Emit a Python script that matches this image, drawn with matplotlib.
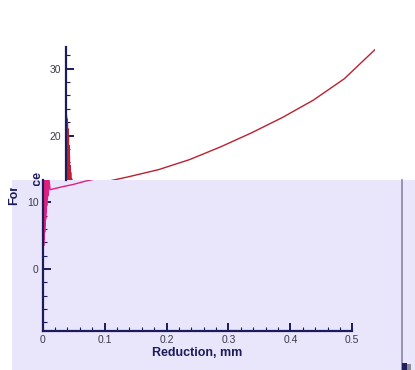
import matplotlib.pyplot as plt
from matplotlib.patches import Rectangle
from matplotlib.transforms import Bbox, TransformedBbox
from matplotlib.ticker import MultipleLocator, FormatStrFormatter

plt.rcParams['font.family'] = ['Liberation Sans', 'DejaVu Sans']

# Force vs reduction: noisy start-up spike followed by the smooth loading curve
spike_x = [0.0, 0.0004, 0.0008, 0.0012, 0.0016, 0.002, 0.0024, 0.0028, 0.0032, 0.0036,
           0.004, 0.0044, 0.0048, 0.0052, 0.0056, 0.006, 0.0065, 0.007, 0.0075, 0.008,
           0.009, 0.010]
spike_y = [1.0, 29.4, 2.0, 23.0, 3.5, 22.5, 4.5, 22.0, 5.5, 21.0,
           6.5, 20.0, 7.5, 18.5, 8.5, 17.0, 9.5, 15.5, 10.5, 14.5,
           11.0, 13.5]
curve_x = [0.012, 0.03, 0.05, 0.07, 0.10, 0.15, 0.20, 0.25, 0.30, 0.35, 0.40, 0.45, 0.50]
curve_y = [11.9, 12.3, 12.7, 13.2, 13.8, 14.9, 16.4, 18.3, 20.4, 22.7, 25.3, 28.5, 32.9]

force_x = spike_x + curve_x
force_y = spike_y + curve_y

x_ticks = [0, 0.1, 0.2, 0.3, 0.4, 0.5]
y_lo, y_split, y_hi = -9.3, 13.35, 33.2

W, H = 415, 370
fig = plt.figure(figsize=(W / 100, H / 100), dpi=100)
fig.patch.set_facecolor('white')

lav = '#e9e5fa'
navy = '#1c1c5c'
tick_col = '#3a3a4a'


def fx(px):
    return px / W


def fy(py):
    return 1 - py / H


# lavender panel under the lower half
fig.patches.append(Rectangle((fx(12), 0), fx(415 - 12), fy(180), transform=fig.transFigure,
                             facecolor=lav, edgecolor='none', zorder=-5))
fig.add_artist(plt.Line2D([fx(401.5), fx(401.5)], [0, fy(180)], transform=fig.transFigure,
                          color='#8a84a8', lw=1.2, zorder=-4))
fig.patches.append(Rectangle((fx(402), 0), fx(4.5), fy(363), transform=fig.transFigure,
                             facecolor='#20205e', edgecolor='none', zorder=-4))
fig.patches.append(Rectangle((fx(406.5), 0), fx(4), fy(364), transform=fig.transFigure,
                             facecolor='#8c8c96', edgecolor='none', zorder=-4))

x0, x1 = 42.7, 352.3
shift = 23

ax_lo = fig.add_axes([fx(x0), fy(331), fx(x1 - x0), fy(180) - fy(331)])
ax_hi = fig.add_axes([fx(x0 + shift), fy(180), fx(x1 - x0), fy(47.3) - fy(180)])

ax_lo.plot(force_x, force_y, color='#e02080', lw=1.0)
ax_hi.plot(force_x, force_y, color='#bb2030', lw=1.0)

for ax, (lo, hi) in ((ax_lo, (y_lo, y_split)), (ax_hi, (y_split, y_hi))):
    ax.set_facecolor('none')
    ax.set_xlim(0, 0.5)
    ax.set_ylim(lo, hi)
    for side in ('top', 'right'):
        ax.spines[side].set_visible(False)
    ax.spines['left'].set_color(navy)
    ax.spines['left'].set_linewidth(1.6)
    ax.yaxis.set_major_locator(MultipleLocator(10))
    ax.yaxis.set_minor_locator(MultipleLocator(2))
    ax.yaxis.set_major_formatter(FormatStrFormatter('%d'))
    ax.tick_params(axis='y', which='major', direction='in', length=6, width=1.4,
                   color=navy, labelsize=7.5, labelcolor=tick_col, pad=3)
    ax.tick_params(axis='y', which='minor', direction='in', length=3, width=0.8, color=navy)

ax_hi.spines['bottom'].set_visible(False)
ax_hi.xaxis.set_visible(False)

ax_lo.spines['bottom'].set_color(navy)
ax_lo.spines['bottom'].set_linewidth(1.6)
ax_lo.set_xticks(x_ticks)
ax_lo.set_xticklabels(['0', '0.1', '0.2', '0.3', '0.4', '0.5'])
ax_lo.xaxis.set_minor_locator(MultipleLocator(0.02))
ax_lo.tick_params(axis='x', which='major', direction='in', length=6, width=1.4,
                  color=navy, labelsize=7.5, labelcolor=tick_col, pad=3)
ax_lo.tick_params(axis='x', which='minor', direction='in', length=3, width=0.8, color=navy)
ax_lo.set_xlabel('Reduction, mm', fontsize=9, fontweight='bold', color=navy, labelpad=1.5)

# y label, split across the two halves
lo_box = TransformedBbox(Bbox([[0, 0], [1, fy(188)]]), fig.transFigure)
hi_box = TransformedBbox(Bbox([[0, fy(186)], [1, 1]]), fig.transFigure)
for px, box in ((14.5, lo_box), (14.5 + shift, hi_box)):
    t = fig.text(fx(px), fy(188), 'Force', rotation=90, ha='center', va='center',
                 fontsize=9, fontweight='bold', color=navy)
    t.set_clip_box(box)
    t.set_clip_on(True)

fig.savefig('out.png', dpi=100)
